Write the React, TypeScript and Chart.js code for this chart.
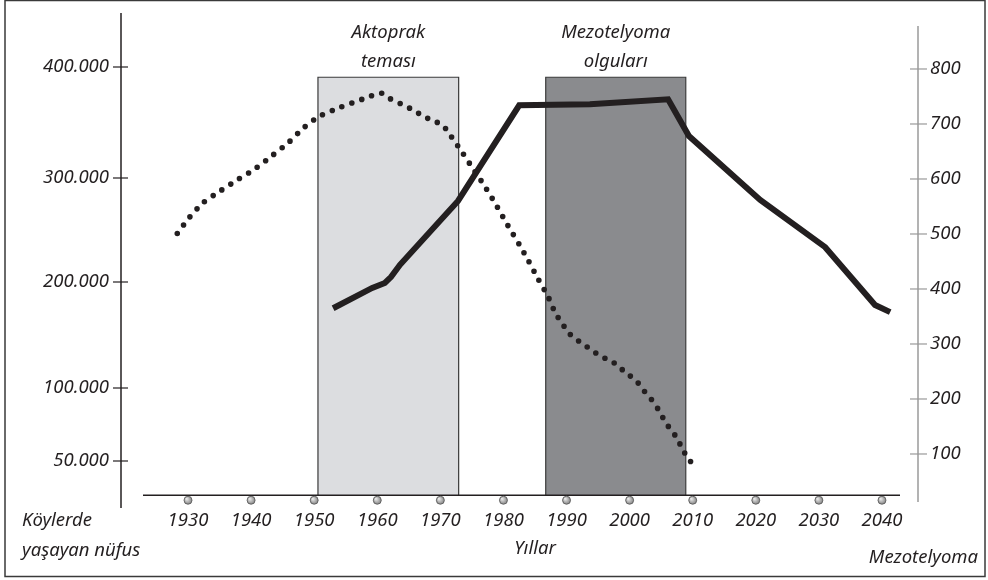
import React, { useEffect, useRef } from 'react';
import { Chart, LinearScale, registerables } from 'chart.js';

// ---------- data ----------
const years = [1930, 1940, 1950, 1960, 1970, 1980, 1990, 2000, 2010, 2020, 2030, 2040];
const leftTicks = [50000, 100000, 200000, 300000, 400000];
const rightTicks = [100, 200, 300, 400, 500, 600, 700, 800];

// village population (left axis, dotted)
const populationYears = [
  1928.3, 1930.2, 1932.4, 1934.9, 1937.8, 1940.6, 1943.3, 1945.9, 1948.4, 1950.8,
  1954.1, 1957.6, 1960.7, 1962.2, 1963.9, 1965.5, 1967.1, 1968.7, 1970.3, 1971.4,
  1973.3, 1975.2, 1977.2, 1979.0, 1980.7, 1982.5, 1984.0, 1985.5, 1987.1, 1988.3,
  1989.3, 1990.2, 1991.5, 1992.8, 1994.2, 1995.6, 1996.9, 1998.3, 1999.7, 2001.2,
  2002.3, 2003.4, 2004.5, 2005.3, 2006.2, 2007.4, 2008.3, 2009.2, 2010.4,
];
const populationValues = [
  246700, 261900, 276200, 286700, 298100, 308200, 320000, 331800, 345500, 355500,
  363600, 370900, 376400, 370900, 366400, 361800, 356400, 351800, 348000, 340000,
  324500, 308200, 290500, 272400, 254300, 236200, 220000, 202900, 185800, 169800,
  161300, 152800, 146200, 140600, 134900, 129200, 126400, 119800, 113200, 105700,
  97900, 92500, 85600, 79500, 73300, 66400, 58900, 52100, 45900,
];

// mesothelioma cases (right axis, solid)
const caseYears = [1953.0, 1959.2, 1961.2, 1962.2, 1963.6, 1972.8, 1982.5, 1993.7, 2006.1, 2009.4, 2020.7, 2031.0, 2038.9, 2041.3];
const caseValues = [365, 402, 411, 422, 444, 560, 734, 736, 745, 678, 562, 476, 371, 358];

// shaded periods
const exposureSpan = [1950.6, 1972.9];
const caseSpan = [1986.7, 2008.9];
const spanTop = 785;
const axisBase = 25;

// left axis spacing (value -> fraction of plot height), as drawn in the figure
const leftKnotValues = [50000, 100000, 200000, 300000, 400000];
const leftKnotFractions = [0.09495, 0.24242, 0.45657, 0.66667, 0.89091];

function interp(v: number, xs: number[], ys: number[]) {
  let i = 1;
  while (i < xs.length - 1 && v > xs[i]) i++;
  const t = (v - xs[i - 1]) / (xs[i] - xs[i - 1]);
  return ys[i - 1] + t * (ys[i] - ys[i - 1]);
}

class PiecewiseScale extends LinearScale {
  static id = 'piecewise';
  getPixelForValue(value: any) {
    if (value === null || value === undefined || isNaN(value)) return NaN;
    return (this as any).getPixelForDecimal(interp(+value, leftKnotValues, leftKnotFractions));
  }
  getValueForPixel(pixel: number) {
    return interp((this as any).getDecimalForPixel(pixel), leftKnotFractions, leftKnotValues);
  }
}

Chart.register(...registerables, PiecewiseScale);

const FONT = 'italic 18.5px "Noto Sans", "Open Sans", sans-serif';
const INK = '#231f20';

const fmt = (v: number) => String(v).replace(/\B(?=(\d{3})+(?!\d))/g, '.');

const decorPlugin = {
  id: 'decor',
  afterDatasetsDraw(chart: any) {
    const { ctx, scales, chartArea } = chart;
    const xs = scales.x, yl = scales.y, yr = scales.y2;
    const baseY = yr.getPixelForValue(axisBase);
    ctx.save();
    // outer frame
    ctx.strokeStyle = '#3a3a3a';
    ctx.lineWidth = 1.5;
    ctx.strokeRect(5, 0.5, 980, 576);

    // x axis line
    ctx.strokeStyle = INK;
    ctx.lineWidth = 1.5;
    ctx.beginPath();
    ctx.moveTo(143, baseY);
    ctx.lineTo(900, baseY);
    ctx.stroke();

    // year markers and labels
    ctx.font = FONT;
    ctx.fillStyle = INK;
    ctx.textAlign = 'center';
    ctx.textBaseline = 'middle';
    years.forEach((yv) => {
      const px = xs.getPixelForValue(yv);
      const cy = baseY + 5;
      const g = ctx.createRadialGradient(px - 1.5, cy - 1.5, 0.5, px, cy, 4.5);
      g.addColorStop(0, '#e8e8e8');
      g.addColorStop(1, '#7a7a7a');
      ctx.beginPath();
      ctx.arc(px, cy, 4, 0, Math.PI * 2);
      ctx.fillStyle = g;
      ctx.fill();
      ctx.strokeStyle = '#555';
      ctx.lineWidth = 0.8;
      ctx.stroke();
      ctx.fillStyle = INK;
      ctx.fillText(String(yv), px, 521);
    });

    // left axis
    const lx = chartArea.left;
    ctx.strokeStyle = INK;
    ctx.lineWidth = 1.5;
    ctx.beginPath();
    ctx.moveTo(lx, chartArea.top);
    ctx.lineTo(lx, chartArea.bottom);
    ctx.stroke();
    ctx.textAlign = 'right';
    leftTicks.forEach((v) => {
      const py = yl.getPixelForValue(v);
      ctx.lineWidth = 1.2;
      ctx.beginPath();
      ctx.moveTo(lx - 8, py);
      ctx.lineTo(lx + 7, py);
      ctx.stroke();
      ctx.fillText(fmt(v), lx - 12, py);
    });

    // right axis
    const rx = chartArea.right;
    ctx.strokeStyle = '#9a9a9a';
    ctx.lineWidth = 1.5;
    ctx.beginPath();
    ctx.moveTo(rx, chartArea.top + 13);
    ctx.lineTo(rx, chartArea.bottom - 6);
    ctx.stroke();
    ctx.textAlign = 'left';
    rightTicks.forEach((v) => {
      const py = yr.getPixelForValue(v);
      ctx.lineWidth = 1.2;
      ctx.beginPath();
      ctx.moveTo(rx - 8, py);
      ctx.lineTo(rx + 9, py);
      ctx.stroke();
      ctx.fillText(String(v), rx + 12, py);
    });

    // axis titles
    ctx.textAlign = 'left';
    ctx.fillText('Köylerde', 22, 521);
    ctx.fillText('yaşayan nüfus', 22, 551);
    ctx.textAlign = 'center';
    ctx.fillText('Yıllar', 535, 549);
    ctx.textAlign = 'right';
    ctx.fillText('Mezotelyoma', 978, 558);

    // span titles
    ctx.textAlign = 'center';
    const c1 = xs.getPixelForValue((exposureSpan[0] + exposureSpan[1]) / 2);
    const c2 = xs.getPixelForValue((caseSpan[0] + caseSpan[1]) / 2);
    ctx.fillText('Aktoprak', c1, 33);
    ctx.fillText('teması', c1, 62);
    ctx.fillText('Mezotelyoma', c2, 33);
    ctx.fillText('olguları', c2, 62);
    ctx.restore();
  },
};

const rect = (span: number[]) => [
  { x: span[0], y: axisBase },
  { x: span[0], y: spanTop },
  { x: span[1], y: spanTop },
  { x: span[1], y: axisBase },
];

export default function App() {
  const ref = useRef<HTMLCanvasElement>(null);
  useEffect(() => {
    document.body.style.margin = '0';
    const canvas = ref.current!;
    const chart = new Chart(canvas, {
      type: 'line',
      data: {
        datasets: [
          {
            label: 'Mezotelyoma',
            data: caseYears.map((x, i) => ({ x, y: caseValues[i] })),
            yAxisID: 'y2',
            borderColor: INK,
            borderWidth: 6,
            pointRadius: 0,
            tension: 0,
            fill: false,
            order: 0,
          },
          {
            label: 'Köylerde yaşayan nüfus',
            data: populationYears.map((x, i) => ({ x, y: populationValues[i] })),
            yAxisID: 'y',
            borderColor: INK,
            borderWidth: 5.6,
            borderDash: [0, 10.5],
            borderCapStyle: 'round',
            pointRadius: 0,
            tension: 0.25,
            fill: false,
            order: 1,
          },
          {
            label: 'Aktoprak teması',
            data: rect(exposureSpan),
            yAxisID: 'y2',
            borderColor: '#3a3a3a',
            borderWidth: 1.2,
            backgroundColor: '#dcdde0',
            pointRadius: 0,
            tension: 0,
            fill: { value: axisBase },
            order: 2,
          },
          {
            label: 'Mezotelyoma olguları',
            data: rect(caseSpan),
            yAxisID: 'y2',
            borderColor: '#3a3a3a',
            borderWidth: 1.2,
            backgroundColor: '#8a8b8e',
            pointRadius: 0,
            tension: 0,
            fill: { value: axisBase },
            order: 3,
          },
        ] as any,
      },
      options: {
        animation: false,
        responsive: false,
        layout: { padding: { left: 121, right: 70, top: 13, bottom: 72 } },
        plugins: { legend: { display: false }, tooltip: { enabled: false } },
        scales: {
          x: { type: 'linear', min: 1919.38, max: 2045.71, display: false },
          y: { type: 'piecewise' as any, min: 17000, max: 450000, display: false },
          y2: { type: 'linear', min: 1.8, max: 901.8, display: false },
        },
      } as any,
      plugins: [decorPlugin],
    });
    return () => chart.destroy();
  }, []);
  return <canvas ref={ref} width={988} height={580} style={{ display: 'block' }} />;
}
